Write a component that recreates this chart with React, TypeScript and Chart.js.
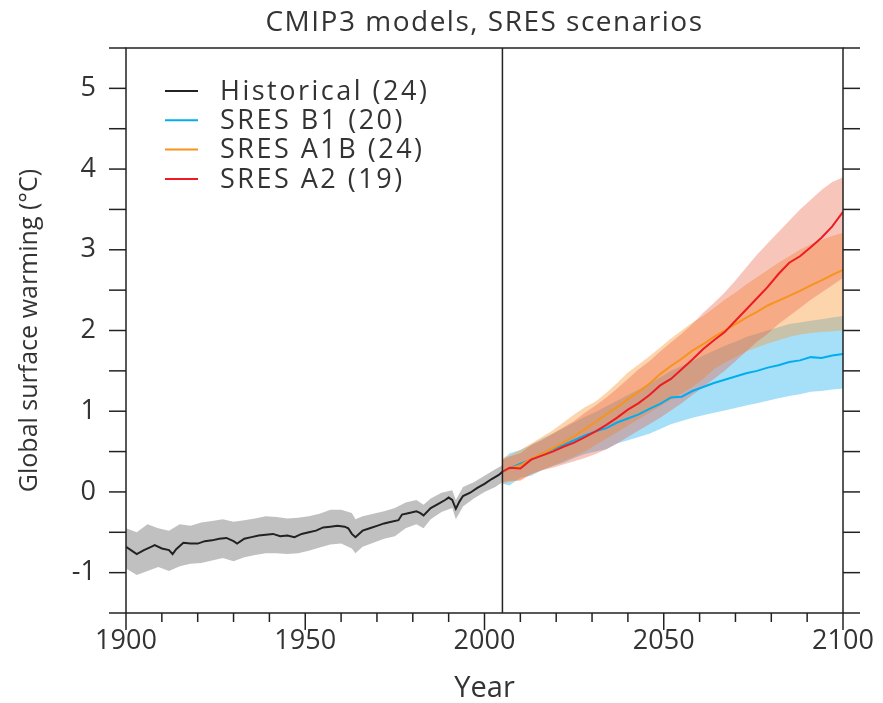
import React, { useEffect, useRef } from 'react';
import { Chart, registerables } from 'chart.js';

Chart.register(...registerables);

// ---------- data ----------
const histYears = [1900,1902,1903,1905,1907,1908,1910,1912,1913,1914,1916,1918,1920,1922,1924,1926,1928,1930,1931,1933,1935,1937,1939,1941,1943,1945,1947,1949,1951,1953,1955,1957,1959,1961,1962,1963,1964,1966,1968,1970,1972,1974,1976,1977,1979,1981,1982,1983,1985,1987,1989,1990,1991,1992,1993,1994,1996,1998,2000,2002,2004,2005];
const histMean = [-0.68,-0.74,-0.77,-0.72,-0.68,-0.66,-0.70,-0.72,-0.77,-0.71,-0.63,-0.64,-0.64,-0.61,-0.60,-0.58,-0.57,-0.61,-0.64,-0.58,-0.56,-0.54,-0.53,-0.52,-0.55,-0.54,-0.56,-0.52,-0.50,-0.48,-0.44,-0.43,-0.42,-0.43,-0.45,-0.52,-0.56,-0.48,-0.45,-0.42,-0.39,-0.37,-0.35,-0.28,-0.26,-0.24,-0.26,-0.29,-0.20,-0.15,-0.10,-0.07,-0.10,-0.21,-0.12,-0.05,-0.01,0.05,0.10,0.16,0.21,0.25];

const histBandYears = [1900,1903,1906,1909,1912,1915,1918,1921,1924,1927,1930,1933,1936,1939,1942,1945,1948,1951,1954,1957,1960,1963,1964,1966,1969,1972,1975,1978,1981,1983,1985,1988,1991,1992,1994,1997,2000,2003,2005];
const histUpper = [-0.45,-0.50,-0.40,-0.45,-0.48,-0.40,-0.42,-0.38,-0.36,-0.34,-0.37,-0.35,-0.33,-0.30,-0.31,-0.33,-0.32,-0.30,-0.27,-0.22,-0.22,-0.26,-0.34,-0.30,-0.27,-0.24,-0.20,-0.13,-0.10,-0.16,-0.08,-0.01,0.02,-0.10,0.06,0.12,0.20,0.28,0.33];
const histLower = [-0.95,-1.03,-0.98,-0.93,-0.98,-0.92,-0.89,-0.88,-0.85,-0.82,-0.86,-0.81,-0.78,-0.76,-0.76,-0.77,-0.76,-0.73,-0.69,-0.65,-0.64,-0.70,-0.76,-0.68,-0.63,-0.58,-0.55,-0.45,-0.40,-0.45,-0.34,-0.25,-0.20,-0.34,-0.18,-0.08,0.00,0.06,0.12];

const futureYears = [2005,2007,2010,2013,2016,2019,2022,2025,2028,2031,2034,2037,2040,2043,2046,2049,2052,2055,2058,2061,2064,2067,2070,2073,2076,2079,2082,2085,2088,2091,2094,2097,2100];

const b1Mean = [0.25,0.29,0.35,0.40,0.47,0.53,0.58,0.64,0.70,0.75,0.79,0.86,0.91,0.96,1.03,1.09,1.17,1.18,1.25,1.30,1.35,1.39,1.43,1.47,1.50,1.54,1.57,1.61,1.63,1.67,1.66,1.69,1.71];
const b1Upper = [0.40,0.48,0.52,0.58,0.66,0.72,0.79,0.86,0.93,0.99,1.06,1.13,1.20,1.27,1.34,1.42,1.50,1.56,1.62,1.69,1.75,1.81,1.86,1.92,1.96,2.00,2.04,2.08,2.10,2.12,2.14,2.16,2.18];
const b1Lower = [0.10,0.08,0.18,0.20,0.27,0.32,0.36,0.42,0.47,0.50,0.53,0.60,0.64,0.68,0.72,0.78,0.84,0.88,0.92,0.95,0.98,1.01,1.04,1.07,1.10,1.13,1.16,1.19,1.21,1.24,1.25,1.27,1.28];

const a1bMean = [0.25,0.29,0.33,0.41,0.47,0.54,0.61,0.69,0.78,0.87,0.96,1.05,1.15,1.24,1.34,1.46,1.56,1.65,1.75,1.83,1.92,2.00,2.08,2.16,2.23,2.31,2.37,2.43,2.49,2.56,2.62,2.69,2.75];
const a1bUpper = [0.42,0.45,0.52,0.60,0.68,0.76,0.86,0.96,1.05,1.12,1.23,1.35,1.48,1.58,1.68,1.79,1.90,2.00,2.10,2.18,2.28,2.38,2.47,2.57,2.66,2.75,2.84,2.92,3.00,3.07,3.12,3.17,3.21];
const a1bLower = [0.10,0.12,0.15,0.22,0.27,0.32,0.38,0.44,0.50,0.58,0.66,0.74,0.82,0.90,0.98,1.06,1.14,1.22,1.30,1.40,1.52,1.60,1.67,1.74,1.79,1.84,1.88,1.92,1.95,1.97,1.98,1.99,2.00];

const a2Mean = [0.25,0.30,0.29,0.40,0.45,0.50,0.56,0.61,0.68,0.75,0.83,0.92,1.02,1.10,1.20,1.32,1.40,1.52,1.64,1.77,1.88,1.98,2.12,2.26,2.40,2.54,2.70,2.84,2.92,3.03,3.15,3.29,3.47];
const a2Upper = [0.40,0.44,0.48,0.58,0.64,0.72,0.80,0.88,0.98,1.07,1.17,1.28,1.40,1.52,1.62,1.74,1.85,1.96,2.08,2.22,2.34,2.47,2.62,2.78,2.94,3.08,3.22,3.36,3.50,3.62,3.74,3.84,3.90];
const a2Lower = [0.12,0.14,0.14,0.22,0.27,0.30,0.34,0.38,0.42,0.47,0.53,0.60,0.68,0.76,0.84,0.92,1.01,1.10,1.20,1.30,1.40,1.50,1.62,1.74,1.86,1.96,2.08,2.18,2.28,2.38,2.47,2.56,2.65];

const legendLabels = ['Historical (24)', 'SRES B1 (20)', 'SRES A1B (24)', 'SRES A2 (19)'];
const lineColors = ['#222222', '#00aeef', '#f7941d', '#ed1c24'];
const bandColors = ['rgba(140,140,140,0.55)', 'rgba(0,165,235,0.35)', 'rgba(247,150,50,0.40)', 'rgba(235,90,60,0.35)'];
const xTickLabels = [1900, 1950, 2000, 2050, 2100];
const yTickLabels = [-1, 0, 1, 2, 3, 4, 5];
const splitYear = 2005;
const titleText = 'CMIP3 models, SRES scenarios';
const yTitleText = 'Global surface warming (°C)';
const xTitleText = 'Year';

const FONT = "'Open Sans', 'Noto Sans', sans-serif";
const TEXT = '#333333';

const toPoints = (xs: number[], ys: number[]) => xs.map((x, i) => ({ x, y: ys[i] }));

const band = (name: string, xs: number[], up: number[], lo: number[], color: string, order: number) => [
  { label: name + ' upper', data: toPoints(xs, up), borderWidth: 0, borderColor: 'transparent', pointRadius: 0, fill: false, order },
  { label: name + ' lower', data: toPoints(xs, lo), borderWidth: 0, borderColor: 'transparent', pointRadius: 0, fill: '-1', backgroundColor: color, order },
];

const line = (name: string, xs: number[], ys: number[], color: string, order: number) => ({
  label: name, data: toPoints(xs, ys), borderColor: color, borderWidth: 2, pointRadius: 0, fill: false, order,
});

const decorPlugin = {
  id: 'decor',
  afterDraw(chart: any) {
    const { ctx, chartArea, scales } = chart;
    const { left, right, top, bottom } = chartArea;
    const x = scales.x;
    const y = scales.y;
    ctx.save();
    ctx.strokeStyle = '#222';
    ctx.lineWidth = 1.5;
    ctx.strokeRect(left, top, right - left, bottom - top);
    const seg = (x1: number, y1: number, x2: number, y2: number) => {
      ctx.beginPath(); ctx.moveTo(x1, y1); ctx.lineTo(x2, y2); ctx.stroke();
    };
    const xs = x.getPixelForValue(splitYear);
    seg(xs, top, xs, bottom);
    y.ticks.forEach((t: any) => {
      const py = y.getPixelForValue(t.value);
      seg(left - 17, py, left, py);
      seg(right, py, right + 17, py);
    });
    x.ticks.forEach((t: any) => {
      const px = x.getPixelForValue(t.value);
      const len = xTickLabels.includes(t.value) ? 17 : 9;
      seg(px, bottom, px, bottom + len);
    });
    // title
    ctx.fillStyle = TEXT;
    ctx.font = `28px ${FONT}`;
    (ctx as any).letterSpacing = '1.5px';
    ctx.textAlign = 'center';
    ctx.textBaseline = 'middle';
    ctx.fillText(titleText, (left + right) / 2, 23);
    // legend
    ctx.font = `27px ${FONT}`;
    (ctx as any).letterSpacing = '2.5px';
    ctx.textAlign = 'left';
    legendLabels.forEach((lab, i) => {
      const ly = 91 + i * 29.3;
      ctx.strokeStyle = lineColors[i];
      ctx.lineWidth = 2;
      seg(165, ly, 198, ly);
      ctx.fillStyle = TEXT;
      ctx.fillText(lab, 220, ly + 1);
    });
    (ctx as any).letterSpacing = '0px';
    ctx.restore();
  },
};

export default function App() {
  const ref = useRef<HTMLCanvasElement>(null);
  useEffect(() => {
    if (!ref.current) return;
    const datasets: any[] = [
      ...band('B1', futureYears, b1Upper, b1Lower, bandColors[1], 20),
      ...band('A1B', futureYears, a1bUpper, a1bLower, bandColors[2], 19),
      ...band('A2', futureYears, a2Upper, a2Lower, bandColors[3], 18),
      ...band('Hist', histBandYears, histUpper, histLower, bandColors[0], 17),
      line(legendLabels[0], histYears, histMean, lineColors[0], 4),
      line(legendLabels[1], futureYears, b1Mean, lineColors[1], 3),
      line(legendLabels[2], futureYears, a1bMean, lineColors[2], 2),
      line(legendLabels[3], futureYears, a2Mean, lineColors[3], 1),
    ];
    const chart = new Chart(ref.current, {
      type: 'line',
      data: { datasets },
      options: {
        animation: false,
        responsive: false,
        events: [],
        layout: { padding: { top: 48, right: 40, left: 0, bottom: 0 } },
        elements: { line: { tension: 0 }, point: { radius: 0 } },
        plugins: { legend: { display: false }, tooltip: { enabled: false }, title: { display: false } },
        scales: {
          x: {
            type: 'linear', min: 1900, max: 2100,
            ticks: {
              stepSize: 10, autoSkip: false, maxRotation: 0, padding: 2,
              color: TEXT, font: { family: FONT, size: 27 },
              callback: (v: any) => (xTickLabels.includes(Number(v)) ? String(v) : ''),
            },
            grid: { display: true, drawOnChartArea: false, drawTicks: true, tickLength: 10, color: 'rgba(0,0,0,0)' },
            border: { display: false },
            title: { display: true, text: xTitleText, color: TEXT, font: { family: FONT, size: 29 }, padding: { top: 0, bottom: -3 } },
            afterFit: (s: any) => { s.height = 90; },
          },
          y: {
            type: 'linear', min: -1.5, max: 5.5,
            ticks: {
              stepSize: 0.5, autoSkip: false, padding: 13,
              color: TEXT, font: { family: FONT, size: 27 },
              callback: (v: any) => (yTickLabels.includes(Number(v)) ? String(v) : ''),
            },
            grid: { display: true, drawOnChartArea: false, drawTicks: true, tickLength: 17, color: 'rgba(0,0,0,0)' },
            border: { display: false },
            title: { display: true, text: yTitleText, color: TEXT, font: { family: FONT, size: 25 }, padding: { top: 15, bottom: 0 } },
            afterFit: (s: any) => { s.width = 126; },
          },
        },
      } as any,
      plugins: [decorPlugin],
    });
    return () => chart.destroy();
  }, []);
  return (
    <div style={{ position: 'fixed', left: 0, top: 0, width: 883, height: 703, background: '#fff' }}>
      <canvas ref={ref} width={883} height={703} style={{ width: 883, height: 703, display: 'block' }} />
    </div>
  );
}
